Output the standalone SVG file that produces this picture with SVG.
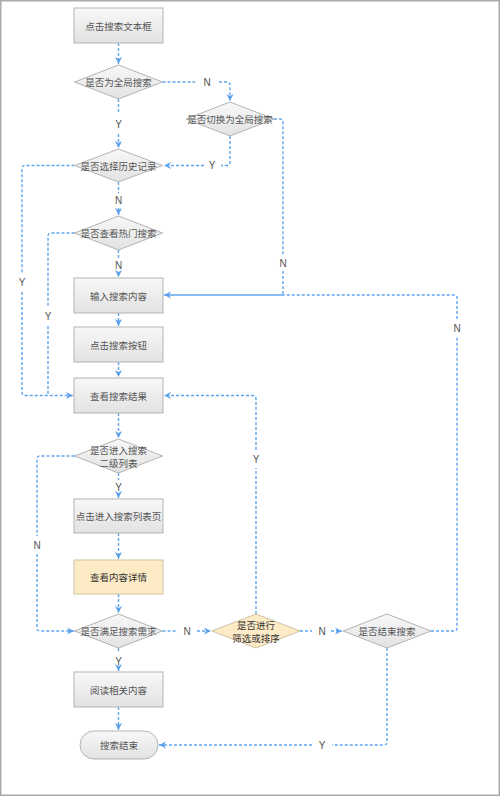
<svg xmlns="http://www.w3.org/2000/svg" width="500" height="796" viewBox="0 0 500 796">
<defs>
<linearGradient id="g" x1="0" y1="0" x2="0" y2="1">
<stop offset="0" stop-color="#f8f8f8"/>
<stop offset="1" stop-color="#e2e2e2"/>
</linearGradient>
<marker id="a" markerUnits="userSpaceOnUse" markerWidth="8" markerHeight="8" refX="7" refY="4" orient="auto">
<path d="M0,0.5 L7,4 L0,7.5 L2,4 z" fill="#5ea2ec"/>
</marker>
<style>
.box{fill:url(#g);stroke:#b3b3b3;stroke-width:1}
.yel{fill:#fdebc6;stroke:#cfc2a0;stroke-width:1}
.t{font-family:"Noto Sans CJK SC","Noto Sans",sans-serif;font-size:9.5px;fill:#555;text-anchor:middle;dominant-baseline:central}
.ty{fill:#333}
.l{font-family:"Liberation Sans",Arial,sans-serif;font-size:10px;fill:#555;text-anchor:middle;dominant-baseline:central}
.c{fill:none;stroke:#5ea4f0;stroke-width:1.4;stroke-dasharray:3,2}
.s{fill:none;stroke:#5ea4f0;stroke-width:1.4}
</style>
</defs>
<rect x="0.75" y="0.75" width="498.5" height="794.5" fill="#fff" stroke="#aaa" stroke-width="1.5"/>

<g id="connectors">
<path class="c" d="M118.5,43 V64" marker-end="url(#a)"/>
<path class="c" d="M162.5,82 H195"/>
<path class="c" d="M219,82 H227 Q230,82 230,85 V101" marker-end="url(#a)"/>
<path class="c" d="M118.5,99 V113"/>
<path class="c" d="M118.5,134 V148" marker-end="url(#a)"/>
<path class="c" d="M230,136 V162 Q230,165.5 226.5,165.5 H221"/>
<path class="c" d="M204,165.5 H164" marker-end="url(#a)"/>
<path class="c" d="M74.5,165.5 H25 Q22,165.5 22,168.5 V273"/>
<path class="c" d="M22,292 V392.5 Q22,395.5 25,395.5 H73" marker-end="url(#a)"/>
<path class="c" d="M118.5,182 V193"/>
<path class="c" d="M118.5,208 V215" marker-end="url(#a)"/>
<path class="c" d="M74.5,233 H51 Q48,233 48,236 V307"/>
<path class="c" d="M48,326 V395.5"/>
<path class="c" d="M118.5,250 V258"/>
<path class="c" d="M118.5,273 V277" marker-end="url(#a)"/>
<path class="c" d="M274,119 H280 Q283,119 283,122 V255"/>
<path class="c" d="M283,271 V295"/>
<path class="s" d="M283,295 H164" marker-end="url(#a)"/>
<path class="c" d="M118.5,313 V326" marker-end="url(#a)"/>
<path class="c" d="M118.5,362 V377" marker-end="url(#a)"/>
<path class="c" d="M118.5,413 V438" marker-end="url(#a)"/>
<path class="c" d="M74.5,456 H40 Q37,456 37,459 V536"/>
<path class="c" d="M37,554 V628 Q37,631 40,631 H74" marker-end="url(#a)"/>
<path class="c" d="M118.5,473 V480"/>
<path class="c" d="M118.5,495 V498" marker-end="url(#a)"/>
<path class="c" d="M118.5,533 V559" marker-end="url(#a)"/>
<path class="c" d="M118.5,594 V613" marker-end="url(#a)"/>
<path class="c" d="M162.5,631 H177"/>
<path class="c" d="M197,631 H211" marker-end="url(#a)"/>
<path class="c" d="M256,614 V468"/>
<path class="c" d="M256,450 V399 Q256,395.5 252.5,395.5 H164" marker-end="url(#a)"/>
<path class="c" d="M300,631 H312"/>
<path class="c" d="M331,631 H342" marker-end="url(#a)"/>
<path class="c" d="M431,631 H454 Q457,631 457,628 V337"/>
<path class="c" d="M457,319 V298 Q457,295 454,295 H283"/>
<path class="c" d="M387,648 V742 Q387,745 384,745 H332"/>
<path class="c" d="M312,745 H159" marker-end="url(#a)"/>
<path class="c" d="M118.5,648 V653"/>
<path class="c" d="M118.5,668 V671" marker-end="url(#a)"/>
<path class="c" d="M118.5,707 V730" marker-end="url(#a)"/>
<text class="l" x="207" y="82">N</text>
<text class="l" x="118.5" y="124">Y</text>
<text class="l" x="212" y="165.5">Y</text>
<text class="l" x="22" y="282">Y</text>
<text class="l" x="118.5" y="200">N</text>
<text class="l" x="48" y="316">Y</text>
<text class="l" x="118.5" y="265">N</text>
<text class="l" x="283" y="263">N</text>
<text class="l" x="457" y="328">N</text>
<text class="l" x="37" y="545">N</text>
<text class="l" x="118.5" y="487">Y</text>
<text class="l" x="187" y="631">N</text>
<text class="l" x="256" y="459">Y</text>
<text class="l" x="322" y="631">N</text>
<text class="l" x="322" y="745">Y</text>
<text class="l" x="118.5" y="661">Y</text>
</g>

<g id="n1"><rect class="box" x="74" y="8" width="89" height="35"/><text class="t" x="118.5" y="25.5">点击搜索文本框</text></g>
<g id="d1"><polygon class="box" points="74.5,82 118.5,65 162.5,82 118.5,99"/><text class="t" x="118.5" y="82">是否为全局搜索</text></g>
<g id="d2"><polygon class="box" points="186,119 230,102 274,119 230,136"/><text class="t" x="230" y="119">是否切换为全局搜索</text></g>
<g id="d3"><polygon class="box" points="74.5,165.5 118.5,149 162.5,165.5 118.5,182"/><text class="t" x="118.5" y="165.5">是否选择历史记录</text></g>
<g id="d4"><polygon class="box" points="74.5,233 118.5,216 162.5,233 118.5,250"/><text class="t" x="118.5" y="233">是否查看热门搜索</text></g>
<g id="n2"><rect class="box" x="74" y="278" width="89" height="35"/><text class="t" x="118.5" y="295.5">输入搜索内容</text></g>
<g id="n3"><rect class="box" x="74" y="327" width="89" height="35"/><text class="t" x="118.5" y="344.5">点击搜索按钮</text></g>
<g id="n4"><rect class="box" x="74" y="378" width="89" height="35"/><text class="t" x="118.5" y="395.5">查看搜索结果</text></g>
<g id="d5"><polygon class="box" points="74.5,456 118.5,439 162.5,456 118.5,473"/><text class="t" x="118.5" y="450">是否进入搜索</text><text class="t" x="118.5" y="463">二级列表</text></g>
<g id="n5"><rect class="box" x="74" y="499" width="89" height="34"/><text class="t" x="118.5" y="516">点击进入搜索列表页</text></g>
<g id="n6"><rect class="yel" x="74" y="560" width="89" height="34"/><text class="t ty" x="118.5" y="577">查看内容详情</text></g>
<g id="d6"><polygon class="box" points="74.5,631 118.5,614 162.5,631 118.5,648"/><text class="t" x="118.5" y="631">是否满足搜索需求</text></g>
<g id="d7"><polygon class="yel" points="212,631 256,614 300,631 256,648"/><text class="t ty" x="256" y="625">是否进行</text><text class="t ty" x="256" y="638">筛选或排序</text></g>
<g id="d8"><polygon class="box" points="343,631 387,614 431,631 387,648"/><text class="t" x="387" y="631">是否结束搜索</text></g>
<g id="n7"><rect class="box" x="74" y="672" width="89" height="35"/><text class="t" x="118.5" y="689.5">阅读相关内容</text></g>
<g id="n8"><rect class="box" x="80" y="731" width="78" height="28" rx="14"/><text class="t" x="119" y="745">搜索结束</text></g>
</svg>
